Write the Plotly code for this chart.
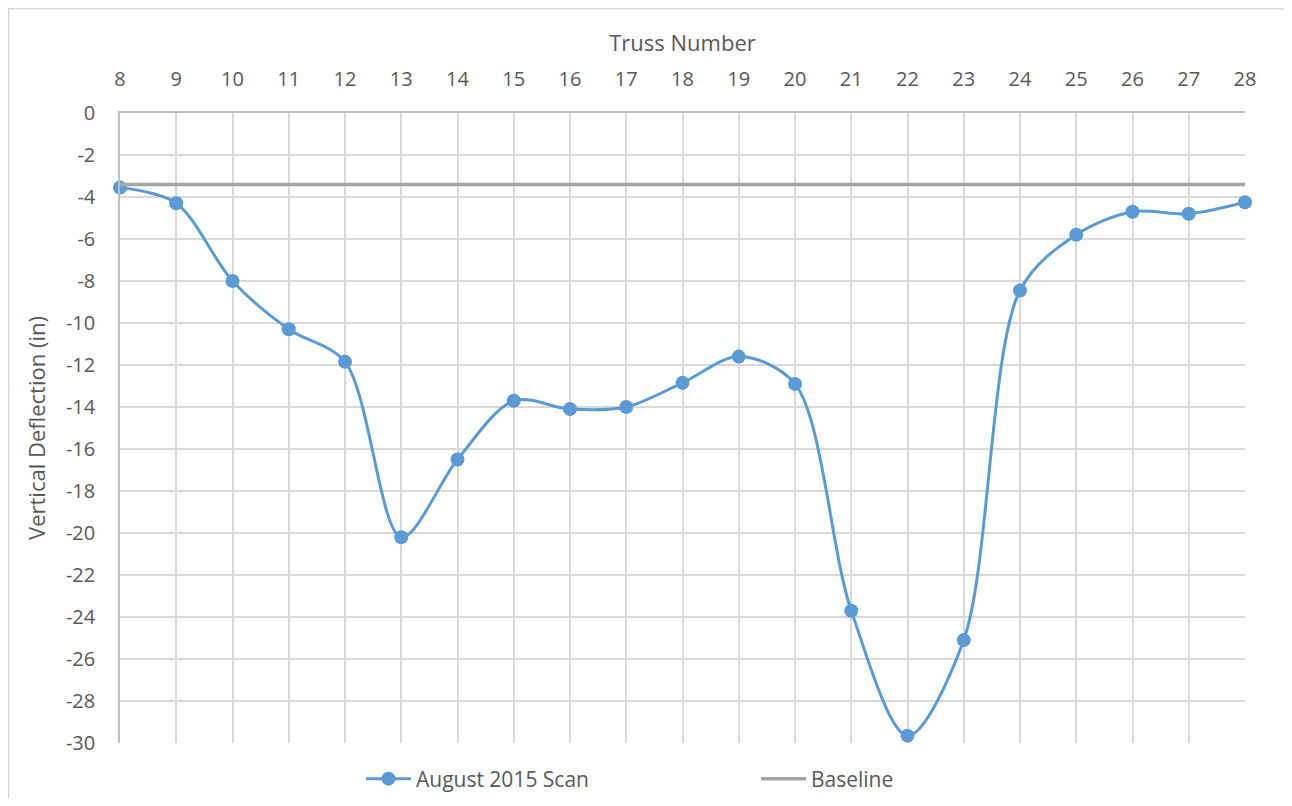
import plotly.graph_objects as go

truss = [8, 9, 10, 11, 12, 13, 14, 15, 16, 17, 18, 19, 20, 21, 22, 23, 24, 25, 26, 27, 28]
august_2015 = [-3.55, -4.3, -8.0, -10.3, -11.85, -20.2, -16.5, -13.7, -14.1, -14.0, -12.85,
               -11.6, -12.9, -23.7, -29.65, -25.1, -8.45, -5.8, -4.7, -4.8, -4.25]
baseline_value = -3.4
baseline = [baseline_value] * len(truss)

y_tick_values = list(range(0, -31, -2))
y_tick_labels = [str(v) for v in y_tick_values]

font_family = "Open Sans"
text_color = "#595959"

# page body has 8px margin -> figure offset by 8px
W, H = 1276, 790
left, top, right_px, bottom_px = 120 - 8, 113 - 8, 1245 - 8, 743 - 8
plot_w, plot_h = right_px - left, bottom_px - top

fig = go.Figure()
fig.add_trace(go.Scatter(
    x=truss, y=august_2015, name="August 2015 Scan",
    mode="lines+markers", cliponaxis=False,
    line=dict(color="#5B9BD5", width=3, shape="spline", smoothing=0.9),
    marker=dict(color="#5B9BD5", size=14),
))
fig.add_trace(go.Scatter(
    x=truss, y=baseline, name="Baseline",
    mode="lines", cliponaxis=False,
    line=dict(color="#A5A5A5", width=3.5),
))

fig.update_layout(
    width=W, height=H,
    paper_bgcolor="white", plot_bgcolor="white",
    margin=dict(l=left, r=W - right_px, t=top, b=H - bottom_px, autoexpand=False),
    font=dict(family=font_family, color=text_color, size=20),
    showlegend=True,
    legend=dict(orientation="h", x=0.2142, xanchor="left", xref="paper",
                y=1 - 771 / H, yanchor="middle", yref="container",
                font=dict(size=21, color=text_color), entrywidth=335, itemwidth=45,
                traceorder="normal"),
    xaxis=dict(
        side="top", range=[8, 28], dtick=1, tick0=8, automargin=False,
        showgrid=True, gridcolor="#D9D9D9", gridwidth=1.5,
        showline=True, linecolor="#BFBFBF", linewidth=1.5,
        zeroline=False, ticks="", ticklabelstandoff=17,
        tickfont=dict(size=20, color=text_color),
        title=dict(text="Truss Number", font=dict(size=22, color=text_color), standoff=8),
    ),
    yaxis=dict(
        range=[-30, 0], tickvals=y_tick_values, ticktext=y_tick_labels, automargin=False,
        showgrid=True, gridcolor="#D9D9D9", gridwidth=1.5,
        showline=True, linecolor="#BFBFBF", linewidth=1.5,
        zeroline=False, ticks="", ticklabelstandoff=19,
        tickfont=dict(size=20, color=text_color),
        title=dict(text="Vertical Deflection (in)", font=dict(size=22, color=text_color), standoff=14),
    ),
    shapes=[dict(type="rect", xref="paper", yref="paper",
                 x0=(0.75 - left) / plot_w, x1=1.1, y0=-0.2, y1=(bottom_px - 0.75) / plot_h,
                 line=dict(color="#D9D9D9", width=1.5), layer="below")],
)

fig.write_html("out.html")
